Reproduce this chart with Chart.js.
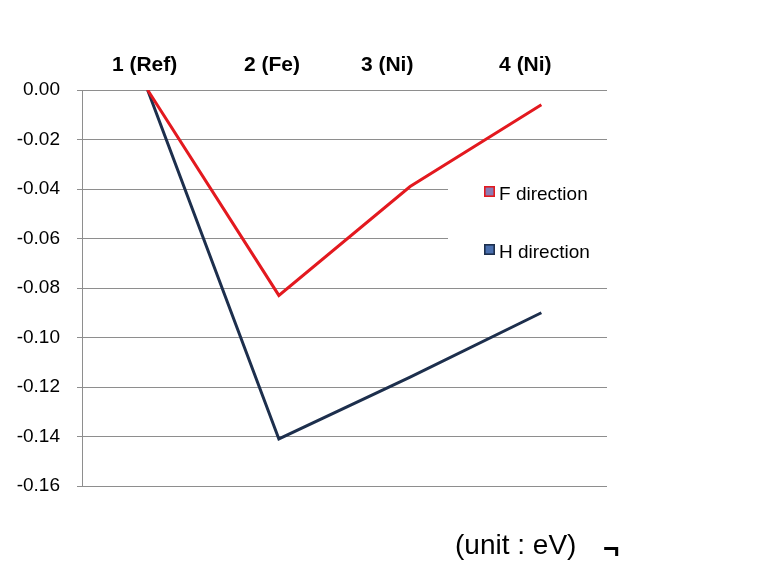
<!DOCTYPE html>
<html>
<head>
<meta charset="utf-8">
<script src="https://cdn.jsdelivr.net/npm/chart.js@4/dist/chart.umd.min.js"></script>
<style>
html,body{margin:0;padding:0;background:#fff;}
#wrap{width:757px;height:577px;}
</style>
</head>
<body>
<div id="wrap"><canvas id="c" width="757" height="577"></canvas></div>
<script>
const categories = ['1 (Ref)', '2 (Fe)', '3 (Ni)', '4 (Ni)'];
const fDirection = [0, -0.083, -0.039, -0.006];
const hDirection = [0, -0.141, -0.116, -0.090];
const yTicks = [0, -0.02, -0.04, -0.06, -0.08, -0.10, -0.12, -0.14, -0.16];
const seriesNames = ['F direction', 'H direction'];
const unitText = '(unit : eV)';

// small nudges of the top labels (in category units), as in the original
const labelNudge = [-0.023, -0.053, -0.175, -0.122];

const FONT = '"Liberation Sans", Arial, sans-serif';
const RED = '#e3191f';
const NAVY = '#1d2f4d';
const GRID = '#8e8e8e';

const overlay = {
  id: 'overlay',
  beforeDatasetsDraw(chart) {
    const ctx = chart.ctx;
    ctx.save();
    ctx.fillStyle = '#fff';
    ctx.fillRect(448, 160, 180, 115);
    ctx.restore();
  },
  afterDraw(chart) {
    const ctx = chart.ctx;
    ctx.save();
    const items = [
      {name: seriesNames[0], fill: '#8a7db3', stroke: RED, y: 186},
      {name: seriesNames[1], fill: '#4a6fae', stroke: NAVY, y: 244}
    ];
    items.forEach(it => {
      ctx.fillStyle = it.fill;
      ctx.fillRect(484, it.y, 11, 11);
      ctx.strokeStyle = it.stroke;
      ctx.lineWidth = 1.6;
      ctx.strokeRect(484.8, it.y + 0.8, 9.4, 9.4);
      ctx.fillStyle = '#000';
      ctx.font = '19px ' + FONT;
      ctx.textBaseline = 'middle';
      ctx.textAlign = 'left';
      ctx.fillText(it.name, 499, it.y + 9);
    });
    ctx.font = '28px ' + FONT;
    ctx.textBaseline = 'middle';
    ctx.fillText(unitText, 455, 546);
    ctx.font = 'bold 28px ' + FONT;
    ctx.fillText('\u00AC', 603, 550);
    ctx.restore();
  }
};

new Chart(document.getElementById('c'), {
  type: 'line',
  data: {
    labels: categories,
    datasets: [
      {label: seriesNames[0], data: fDirection, borderColor: RED, backgroundColor: RED,
       borderWidth: 3, pointRadius: 0, tension: 0, fill: false},
      {label: seriesNames[1], data: hDirection, borderColor: NAVY, backgroundColor: NAVY,
       borderWidth: 3, pointRadius: 0, tension: 0, fill: false}
    ]
  },
  options: {
    responsive: false,
    animation: false,
    devicePixelRatio: 1,
    layout: {padding: {left: 0, right: 150, top: 0, bottom: 91}},
    plugins: {legend: {display: false}, tooltip: {enabled: false}},
    scales: {
      x: {
        type: 'category',
        display: false,
        offset: true
      },
      xTop: {
        type: 'linear',
        position: 'top',
        min: -0.5,
        max: 3.5,
        grid: {display: false, drawTicks: false},
        border: {display: false},
        afterBuildTicks(scale) {
          scale.ticks = categories.map((c, i) => ({value: i + labelNudge[i]}));
        },
        afterFit(scale) { scale.height = 90; },
        ticks: {
          padding: 12,
          color: '#000',
          font: {family: FONT, size: 21, weight: 'bold'},
          maxRotation: 0,
          autoSkip: false,
          callback(value, index) { return categories[index]; }
        }
      },
      y: {
        min: -0.16,
        max: 0,
        afterBuildTicks(scale) {
          scale.ticks = yTicks.map(v => ({value: v}));
        },
        afterFit(scale) { scale.width = 82; },
        grid: {color: GRID, lineWidth: 1, drawTicks: true, tickLength: 5, tickColor: GRID},
        border: {display: true, color: GRID, width: 1},
        ticks: {
          padding: 17,
          color: '#000',
          font: {family: FONT, size: 19},
          callback(v) { return v.toFixed(2); }
        }
      }
    }
  },
  plugins: [overlay]
});
</script>
</body>
</html>
